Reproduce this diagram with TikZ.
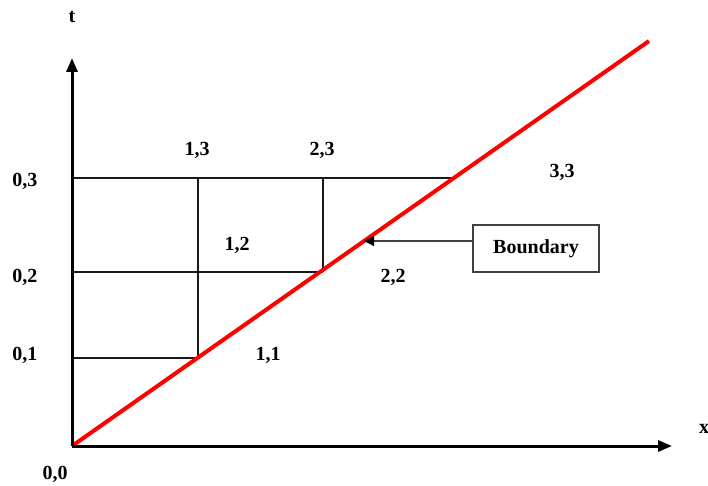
\documentclass[tikz,border=0pt]{standalone}
\usepackage{fontspec}
\setmainfont{Liberation Serif}
\usetikzlibrary{arrows.meta}
\begin{document}
\begin{tikzpicture}[x=1pt,y=-1pt,
  lbl/.style={font=\fontsize{20}{20}\selectfont\bfseries, inner sep=0pt, anchor=center},
  axis/.style={line width=3pt,-{Triangle[length=14pt,width=11pt]}},
  gridline/.style={line width=1.2pt, black!90},
  boundary/.style={red, line width=4pt},
  bbox/.style={draw=black!75, line width=1.3pt, minimum width=126pt, minimum height=47pt, inner sep=0pt, font=\fontsize{20}{20}\selectfont\bfseries},
  pointer/.style={line width=1.3pt, draw=black!75, -{Triangle[length=10pt,width=10pt,fill=black,color=black]}}]
\useasboundingbox (0,0) rectangle (708,486);
% axes
\coordinate (O) at (72,446);
\coordinate (T) at (72,58);
\coordinate (X) at (672,446);
% grid points
\coordinate (a1) at (72,358);
\coordinate (b1) at (198,358);
\coordinate (a2) at (72,272);
\coordinate (b2) at (198,272);
\coordinate (c2) at (323,272);
\coordinate (a3) at (72,178);
\coordinate (b3) at (198,178);
\coordinate (c3) at (323,178);
\coordinate (d3) at (452,178);
\coordinate (R) at (649,41);
\coordinate (bp) at (364,241);
% grid
\draw[gridline] (a1) -- (b1);
\draw[gridline] (a2) -- (c2);
\draw[gridline] (a3) -- (d3);
\draw[gridline] (b3) -- (b1);
\draw[gridline] (c3) -- (c2);
% red boundary
\draw[boundary] (O) -- (R);
% axes on top
\draw[axis] (O) -- (T);
\draw[axis] (O) -- (X);
% labels
\node[lbl] (lt) at (72,17) {t};
\node[lbl] (lx) at (704,429) {x};
\node[lbl] (l00) at (55,474) {0,0};
\node[lbl] (l01) at (25,355) {0,1};
\node[lbl] (l02) at (25,277) {0,2};
\node[lbl] (l03) at (25,181) {0,3};
\node[lbl] (l13) at (197,150) {1,3};
\node[lbl] (l23) at (322,150) {2,3};
\node[lbl] (l33) at (562,172) {3,3};
\node[lbl] (l12) at (237,245) {1,2};
\node[lbl] (l22) at (393,277) {2,2};
\node[lbl] (l11) at (268,355) {1,1};
% boundary box
\node[bbox] (bnd) at (536,248.5) {Boundary};
\draw[pointer] (bnd.west |- bp) -- (bp);
\end{tikzpicture}
\end{document}
